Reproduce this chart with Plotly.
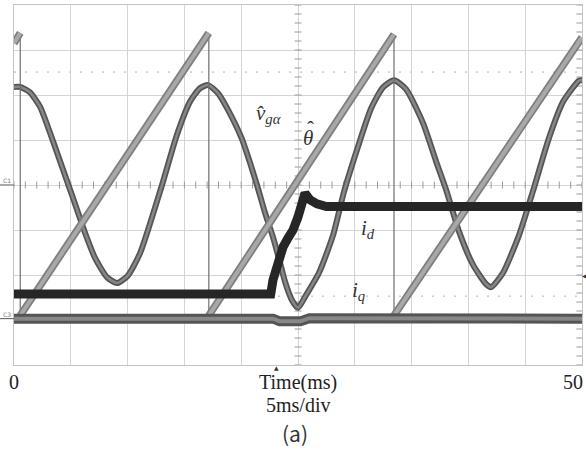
import numpy as np
import plotly.graph_objects as go

# ---------------- data (time in ms, amplitude in scope divisions, centre = 0) -------------
theta_time = [0.0, 0.55, 0.55, 17.15, 17.15, 33.45, 33.45, 50.0]
theta_div = [3.15, 3.38, -2.90, 3.38, -2.90, 3.35, -2.90, 3.28]

valpha_time = [0.0, 0.53, 1.4, 2.29, 3.17, 3.87, 4.75, 5.55, 6.25, 7.13, 8.19, 9.07,
               10.0, 11.09, 13.03, 14.35, 15.49, 16.37, 17.08, 17.96, 18.84, 20.07,
               20.77, 21.39, 22.1, 22.8, 23.42, 23.86, 24.47, 25.0, 25.7, 26.85, 28.08,
               29.05, 30.28, 31.43, 32.48, 33.45, 34.51, 36.0, 37.15, 38.03, 39.17,
               40.4, 41.55, 42.0, 43.05, 44.45, 45.69, 47.1, 48.33, 49.74, 50.0]
valpha_div = [2.18, 2.18, 2.06, 1.74, 1.16, 0.66, 0.03, -0.55, -1.06, -1.62, -2.05, -2.18,
              -2.02, -1.52, 0.0, 1.12, 1.85, 2.15, 2.22, 2.04, 1.67, 1.02,
              0.5, 0.0, -0.62, -1.16, -1.73, -2.15, -2.56, -2.73, -2.45, -1.95, -1.12,
              -0.15, 0.85, 1.7, 2.17, 2.33, 2.13, 1.38, 0.53, -0.1, -1.03,
              -1.77, -2.2, -2.27, -1.95, -1.12, -0.13, 1.05, 1.85, 2.32, 2.33]

id_time = [0.0, 22.6, 22.8, 23.24, 23.68, 24.12, 24.56, 25.0, 25.44, 25.62, 26.06, 26.67, 27.5, 50.0]
id_div = [-2.42, -2.42, -2.11, -1.67, -1.38, -1.18, -1.0, -0.71, -0.33, -0.18, -0.33, -0.42, -0.48, -0.48]

iq_time = [0.0, 22.8, 23.4, 25.2, 26.0, 50.0]
iq_div = [-2.97, -2.97, -3.03, -3.03, -2.96, -2.97]

cursor_levels = [2.51, -2.47]
trigger_time = 23.1

# ---------------- build figure ----------------
ramp_x, ramp_y, reset_x, reset_y = [], [], [], []
for i in range(0, len(theta_time), 2):
    ramp_x += [theta_time[i], theta_time[i + 1], None]
    ramp_y += [theta_div[i], theta_div[i + 1], None]
for i in range(1, len(theta_time) - 1, 2):
    reset_x += [theta_time[i], theta_time[i + 1], None]
    reset_y += [theta_div[i], theta_div[i + 1], None]

fig = go.Figure()

# graticule minor ticks on centre lines and right edge
minor_x = np.arange(0, 50.001, 1.0)
minor_y = np.arange(-4, 4.001, 0.2)
fig.add_trace(go.Scatter(x=minor_x, y=[0] * len(minor_x), mode="markers",
                         marker=dict(symbol="line-ns", size=5, line=dict(width=1, color="#9a9a9a")),
                         hoverinfo="skip", showlegend=False))
fig.add_trace(go.Scatter(x=[25] * len(minor_y), y=minor_y, mode="markers",
                         marker=dict(symbol="line-ew", size=5, line=dict(width=1, color="#9a9a9a")),
                         hoverinfo="skip", showlegend=False))
fig.add_trace(go.Scatter(x=[50] * len(minor_y), y=minor_y, mode="markers",
                         marker=dict(symbol="line-ew", size=8, line=dict(width=1, color="#9a9a9a")),
                         hoverinfo="skip", showlegend=False))

# v_g alpha
fig.add_trace(go.Scatter(x=valpha_time, y=valpha_div, mode="lines",
                         line=dict(color="#555555", width=6, shape="spline", smoothing=0.6),
                         hoverinfo="skip", showlegend=False))
fig.add_trace(go.Scatter(x=valpha_time, y=valpha_div, mode="lines",
                         line=dict(color="#878787", width=2.5, shape="spline", smoothing=0.6),
                         hoverinfo="skip", showlegend=False))
# theta reset lines (thin) and ramps
fig.add_trace(go.Scatter(x=reset_x, y=reset_y, mode="lines",
                         line=dict(color="#6e6e6e", width=1.2),
                         hoverinfo="skip", showlegend=False))
fig.add_trace(go.Scatter(x=ramp_x, y=ramp_y, mode="lines",
                         line=dict(color="#7e7e7e", width=7.5),
                         hoverinfo="skip", showlegend=False))
fig.add_trace(go.Scatter(x=ramp_x, y=ramp_y, mode="lines",
                         line=dict(color="#a8a8a8", width=4),
                         hoverinfo="skip", showlegend=False))
# i_q
fig.add_trace(go.Scatter(x=iq_time, y=iq_div, mode="lines",
                         line=dict(color="#555555", width=10),
                         hoverinfo="skip", showlegend=False))
fig.add_trace(go.Scatter(x=iq_time, y=iq_div, mode="lines",
                         line=dict(color="#888888", width=4),
                         hoverinfo="skip", showlegend=False))
# i_d
fig.add_trace(go.Scatter(x=id_time, y=id_div, mode="lines",
                         line=dict(color="#262626", width=9),
                         hoverinfo="skip", showlegend=False))

# cursor dotted lines
for lv in cursor_levels:
    fig.add_shape(type="line", xref="x", yref="y", x0=0, x1=50, y0=lv, y1=lv,
                  line=dict(color="#b0b0b0", width=1, dash="2px,9px"), layer="below")

serif = "Liberation Serif"
ann = []
# curve labels
ann.append(dict(x=22.4, y=1.58, xref="x", yref="y", showarrow=False,
                text="<i>v̂</i><sub><i>gα</i></sub>",
                font=dict(family=serif, size=21, color="#333333")))
ann.append(dict(x=25.9, y=1.05, xref="x", yref="y", showarrow=False,
                text="<i>θ</i>", font=dict(family=serif, size=21, color="#333333")))
ann.append(dict(x=26.1, y=1.05, xref="x", yref="y", showarrow=False, yshift=9,
                text="ˆ", font=dict(family=serif, size=21, color="#333333")))
ann.append(dict(x=31.2, y=-0.98, xref="x", yref="y", showarrow=False,
                text="<i>i</i><sub><i>d</i></sub>", font=dict(family=serif, size=21, color="#333333")))
ann.append(dict(x=30.3, y=-2.36, xref="x", yref="y", showarrow=False,
                text="<i>i</i><sub><i>q</i></sub>", font=dict(family=serif, size=21, color="#333333")))
# axis texts
ann.append(dict(x=0.0, y=-0.046, xref="x", yref="paper", showarrow=False, text="0",
                xanchor="center", yanchor="middle", font=dict(family=serif, size=20, color="#222222")))
ann.append(dict(x=25.0, y=-0.048, xref="x", yref="paper", showarrow=False, text="Time(ms)",
                xanchor="center", yanchor="middle", font=dict(family=serif, size=20, color="#222222")))
ann.append(dict(x=1.006, y=-0.046, xref="paper", yref="paper", showarrow=False, text="50",
                xanchor="right", yanchor="middle", font=dict(family=serif, size=20, color="#222222")))
ann.append(dict(x=25.0, y=-0.11, xref="x", yref="paper", showarrow=False, text="5ms/div",
                xanchor="center", yanchor="middle", font=dict(family=serif, size=20, color="#222222")))
ann.append(dict(x=24.7, y=-0.19, xref="x", yref="paper", showarrow=False, text="(a)",
                xanchor="center", yanchor="middle", font=dict(family="Noto Sans CJK KR", size=21, color="#333333")))
# scope channel markers
ann.append(dict(x=-0.012, y=0.0 + 0.09, xref="paper", yref="y", showarrow=False, text="C1",
                xanchor="center", yanchor="middle", font=dict(family="DejaVu Sans", size=6, color="#777777")))
ann.append(dict(x=-0.012, y=-2.97 + 0.09, xref="paper", yref="y", showarrow=False, text="C3",
                xanchor="center", yanchor="middle", font=dict(family="DejaVu Sans", size=6, color="#777777")))
ann.append(dict(x=trigger_time, y=-0.006, xref="x", yref="paper", showarrow=False, text="▲",
                xanchor="center", yanchor="middle", font=dict(family="DejaVu Sans", size=6, color="#333333")))
ann.append(dict(x=1.004, y=-2.0, xref="paper", yref="y", showarrow=False, text="◀",
                xanchor="center", yanchor="middle", font=dict(family="DejaVu Sans", size=6, color="#333333")))
fig.update_layout(annotations=ann)

for lv in [0.0, -2.97]:
    fig.add_shape(type="line", xref="paper", yref="y", x0=-0.025, x1=0.0, y0=lv, y1=lv,
                  line=dict(color="#555555", width=1))

fig.update_xaxes(range=[0, 50], dtick=5, tick0=0, showgrid=True, gridcolor="#d4d4d4", gridwidth=1,
                 showticklabels=False, ticks="", zeroline=False, showline=True, mirror=True,
                 linecolor="#c4c4c4", linewidth=1)
fig.update_yaxes(range=[-4, 4], dtick=1, tick0=0, showgrid=True, gridcolor="#d4d4d4", gridwidth=1,
                 showticklabels=False, ticks="", zeroline=False, showline=True, mirror=True,
                 linecolor="#c4c4c4", linewidth=1)

fig.update_layout(width=586, height=450, margin=dict(l=14, r=4, t=5, b=85),
                  plot_bgcolor="white", paper_bgcolor="white", showlegend=False)

fig.write_html("out.html")
